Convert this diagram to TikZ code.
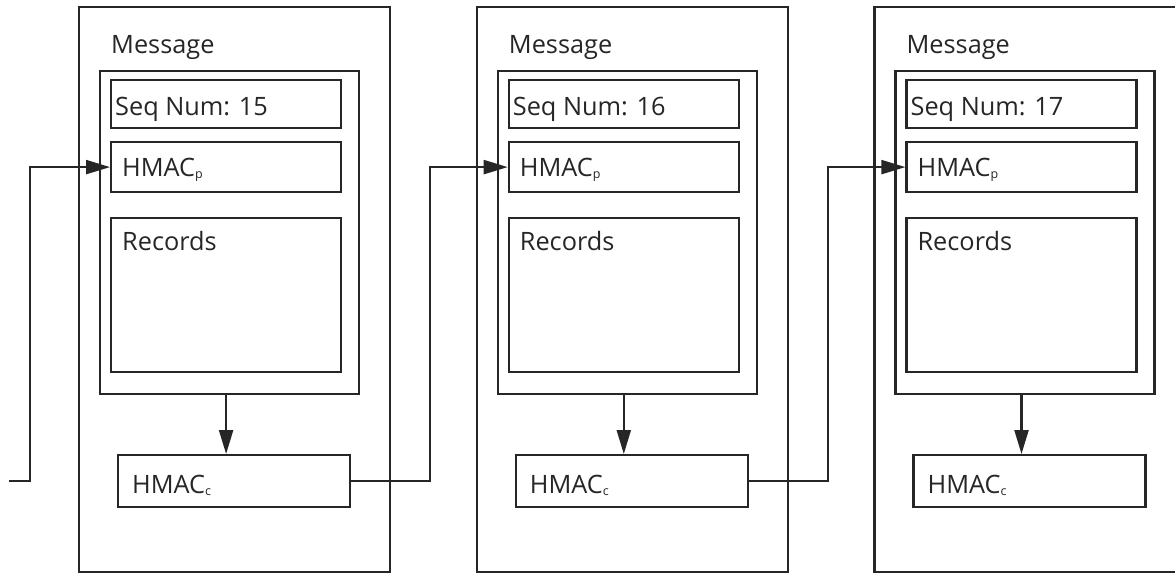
\documentclass[tikz,border=0pt]{standalone}
\usepackage{fontspec}
\setmainfont{Open Sans}
\usetikzlibrary{arrows.meta,calc}

\newcommand{\subtxt}[1]{\raisebox{-2.5pt}{\fontsize{12.5}{12.5}\selectfont #1}}

\tikzset{
  ln/.style={line width=2.2pt, draw=black!85},
  box/.style={ln, rectangle, inner sep=0pt, anchor=north west},
  txt/.style={inner sep=0pt, anchor=base west, font=\fontsize{25.3}{30}\selectfont, text=black!85},
  arr/.style={ln, -{Triangle[length=24pt,width=14pt]}},
  wire/.style={ln, line join=miter}
}

\begin{document}
\begin{tikzpicture}[x=1pt,y=-1pt]
  \useasboundingbox (0,0) rectangle (1175,573);
  \clip (0,0) rectangle (1175,573);

  \foreach \i/\n in {1/15,2/16,3/17}{
    \pgfmathsetmacro{\dx}{397.7*(\i-1)}
    \begin{scope}[xshift=\dx pt]
      % message frame and its contents
      \node[box, minimum width=311pt, minimum height=565pt] (msg\i) at (78,6) {};
      \node[txt] (msgt\i) at (111,53) {Message};
      \node[box, minimum width=259pt, minimum height=323pt] (inner\i) at (99,70) {};
      \node[box, minimum width=230pt, minimum height=48pt] (seq\i) at (110,79) {};
      \node[txt] (seqt\i) at (115,115) {Seq Num: \n};
      \node[box, minimum width=230pt, minimum height=50pt] (hp\i) at (110,141) {};
      \node[txt] (hpt\i) at (122,176) {HMAC\subtxt{p}};
      \node[box, minimum width=230pt, minimum height=154pt] (rec\i) at (110,217) {};
      \node[txt] (rect\i) at (122,250) {Records};
      % chained MAC below the message body
      \node[box, minimum width=232pt, minimum height=52pt] (hc\i) at (117,454) {};
      \node[txt] (hct\i) at (132,493) {HMAC\subtxt{c}};
      \draw[arr] ([xshift=-3.5pt]inner\i.south) -- ([xshift=-3.5pt]inner\i.south |- hc\i.north);
    \end{scope}
  }

  % chain links between consecutive messages
  \coordinate (start) at (9,481);
  \draw[wire, arr] (start) -- ++(21,0) |- (hp1.west);
  \draw[wire, arr] (hc1.east) -- ++(79,0) |- (hp2.west);
  \draw[wire, arr] (hc2.east) -- ++(79,0) |- (hp3.west);
\end{tikzpicture}
\end{document}
